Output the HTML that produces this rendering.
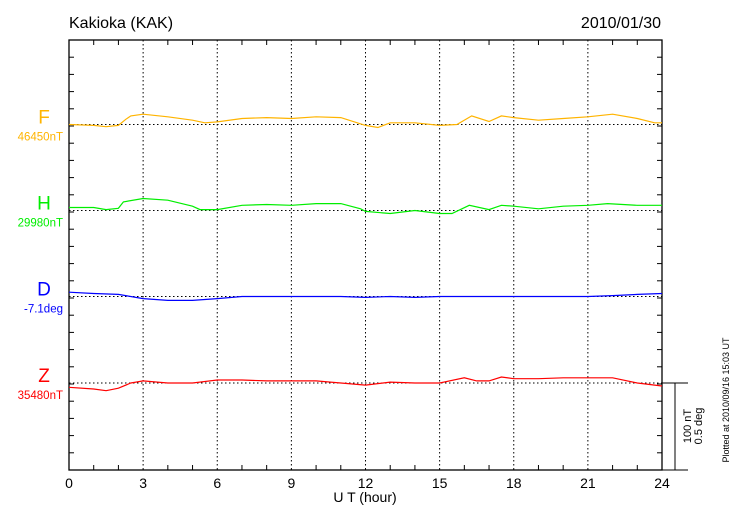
<!DOCTYPE html>
<html><head><meta charset="utf-8"><style>
body{margin:0;background:#fff;}
svg{display:block;font-family:"Liberation Sans",Arial,sans-serif;}
</style></head><body>
<svg id="chart" width="730" height="520" viewBox="0 0 730 520" xmlns="http://www.w3.org/2000/svg">
<text x="69" y="28" font-size="16">Kakioka (KAK)</text>
<text x="661" y="28" font-size="16" text-anchor="end">2010/01/30</text>
<g id="grid"></g>
<g id="axes"></g>
<g id="series"></g>
<text x="365" y="502" font-size="14" text-anchor="middle">U T (hour)</text>
<g>
<line x1="662" y1="383" x2="688" y2="383" stroke="#000" stroke-width="1"/>
<line x1="675" y1="383" x2="675" y2="470" stroke="#000" stroke-width="1"/>
<line x1="662" y1="470" x2="688" y2="470" stroke="#000" stroke-width="1"/>
<text transform="translate(691,426) rotate(-90)" font-size="11" text-anchor="middle">100 nT</text>
<text transform="translate(702,426) rotate(-90)" font-size="11" text-anchor="middle">0.5 deg</text>
</g>
<text transform="translate(729,400) rotate(-90)" font-size="9" text-anchor="middle">Plotted at 2010/09/16 15:03 UT</text>
</svg>
<script>
const hours=[0,1,2,3,4,5,6,7,8,9,10,11,12,13,14,15,16,17,18,19,20,21,22,23,24];
const fHours=[0,1,1.5,2,2.3,2.5,3,4,5,5.5,6,7,8,9,10,11,12,12.5,13,14,15,15.7,16.3,17,17.5,18,19,20,21,22,23,23.7,24];
const fValues=[0,-1,-2.5,-1,6,10,12,9,5,2,3,7,8,7,9,8,-1,-3.5,2,2,-1,0,10,3.5,10,8,5,7,9,12,7,2,2];
const hHours=[0,1,1.5,2,2.2,3,4,5,5.3,6,7,8,9,10,11,11.8,12,13,14,15,15.5,16.2,17,17.5,18,19,20,21,21.8,23,24];
const hValues=[3.5,3.5,1,2.5,10,14,12,5,1,1,6,7,6,8,8,2,-1,-3.5,0,-3.5,-3.5,6,1,6,5,2,5,6,8,6,6];
const dValues=[5,3.5,2.5,-2.5,-4.5,-4.5,-2.5,0,0,0,0,0,-1,0,-1,0,0,0,0,0,0,0,1,2.5,3.5];
const zHours=[0,1,1.5,2,2.5,3,4,5,6,7,8,9,10,11,12,13,14,15,16,16.5,17,17.5,18,19,20,21,22,23,24];
const zValues=[-5,-7,-9,-6,0,2.5,0,0,3.5,3.5,2.5,2.5,2.5,0,-2.5,1,0,0,6,2.5,2.5,7,5,5,6,6,6,0,-3.5];
const xTickLabels=["0","3","6","9","12","15","18","21","24"];
const componentNames=["F","H","D","Z"];
const baseLabels=["46450nT","29980nT","-7.1deg","35480nT"];
const colors=["#FFB400","#00EE00","#0000FF","#FF0000"];

const L=69,R=662,T=40,B=470,baseY=[124.5,210.5,296.5,383],pxPerNT=0.86;
const NS="http://www.w3.org/2000/svg";
const xS=h=>L+(R-L)*h/24;
function mk(tag,attrs,parent){const e=document.createElementNS(NS,tag);for(const k in attrs)e.setAttribute(k,attrs[k]);parent.appendChild(e);return e;}
const grid=document.getElementById('grid'),axes=document.getElementById('axes'),ser=document.getElementById('series');
for(let i=1;i<8;i++){const l=mk('line',{x1:xS(i*3),x2:xS(i*3),y1:T,y2:B,stroke:'#000','stroke-dasharray':'1.5,2.5','stroke-width':1},grid);

}
baseY.forEach(y=>{const l=mk('line',{x1:L,x2:R,y1:y,y2:y,stroke:'#000','stroke-dasharray':'1.5,2.5','stroke-width':1},grid);

});
const fr=mk('rect',{x:L,y:T,width:R-L,height:B-T,fill:'none',stroke:'#000','stroke-width':1.3},axes);


for(let h=1;h<24;h++){if(h%3==0)continue;
mk('line',{x1:xS(h),x2:xS(h),y1:T,y2:T+5,stroke:'#000'},axes);
mk('line',{x1:xS(h),x2:xS(h),y1:B,y2:B-5,stroke:'#000'},axes);}
for(let i=1;i<25;i++){const y=T+i*(B-T)/25;
mk('line',{x1:L,x2:L+5,y1:y,y2:y,stroke:'#000'},axes);
mk('line',{x1:R,x2:R-5,y1:y,y2:y,stroke:'#000'},axes);}
xTickLabels.forEach((t,i)=>{const e=mk('text',{x:xS(i*3),y:488,'font-size':14,'text-anchor':'middle'},axes);e.textContent=t;

});
const seriesH=[fHours,hHours,hours,zHours],seriesV=[fValues,hValues,dValues,zValues];
componentNames.forEach((n,i)=>{
const t=mk('text',{x:44,y:baseY[i]-1,'font-size':19,'text-anchor':'middle',fill:colors[i]},axes);t.textContent=n;


const b=mk('text',{x:63,y:baseY[i]+16,'font-size':11.5,'text-anchor':'end',fill:colors[i]},axes);b.textContent=baseLabels[i];


const pts=seriesH[i].map((h,j)=>xS(h).toFixed(1)+','+(baseY[i]-seriesV[i][j]*pxPerNT).toFixed(1)).join(' ');
const p=mk('polyline',{points:pts,fill:'none',stroke:colors[i],'stroke-width':1.2},ser);


});
</script>
</body></html>
